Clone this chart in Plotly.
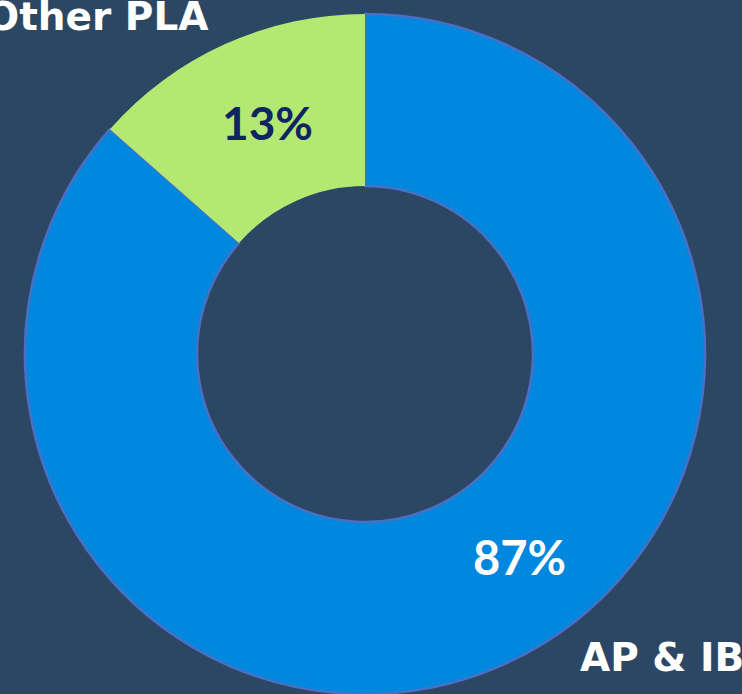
import plotly.graph_objects as go

categories = ["AP & IB", "Other PLA"]
values = [86.5, 13.5]
pct_labels = ["87%", "13%"]
slice_colors = ["#0088DE", "#B3E973"]

W, H = 742, 694
mt = 14
plot_h = H - mt

def px(x):
    return x / W

def py(y):
    return (H - y) / plot_h

fig = go.Figure()
fig.add_trace(go.Pie(
    labels=categories,
    values=values,
    sort=False,
    direction="clockwise",
    rotation=0,
    hole=0.494,
    textinfo="none",
    hoverinfo="skip",
    showlegend=False,
    marker=dict(colors=slice_colors,
                line=dict(color=["#4A70C6", "rgba(0,0,0,0)"], width=[2.5, 0])),
    domain=dict(x=[px(25), px(705)], y=[0, 1]),
))

pct_font = "Lato, 'Open Sans', sans-serif"
lab_font = "'DejaVu Sans', sans-serif"
annos = [
    dict(text="<b>" + pct_labels[1] + "</b>", x=px(267), y=py(122), xanchor="center", yanchor="middle",
         font=dict(size=46, color="#0E2560", family=pct_font)),
    dict(text="<b>" + pct_labels[0] + "</b>", x=px(519), y=py(557), xanchor="center", yanchor="middle",
         font=dict(size=47, color="#FFFFFF", family=pct_font)),
    dict(text="<b>" + categories[1] + "</b>", x=px(210), y=py(17), xanchor="right", yanchor="middle",
         font=dict(size=39, color="#FFFFFF", family=lab_font)),
    dict(text="<b>" + categories[0] + "</b>", x=px(578), y=py(657), xanchor="left", yanchor="middle",
         font=dict(size=39, color="#FFFFFF", family=lab_font)),
]
for a in annos:
    a.update(xref="paper", yref="paper", showarrow=False)

fig.update_layout(
    width=W, height=H,
    margin=dict(l=0, r=0, t=mt, b=0),
    paper_bgcolor="#2C4764",
    plot_bgcolor="#2C4764",
    annotations=annos,
)

fig.write_html("out.html")
